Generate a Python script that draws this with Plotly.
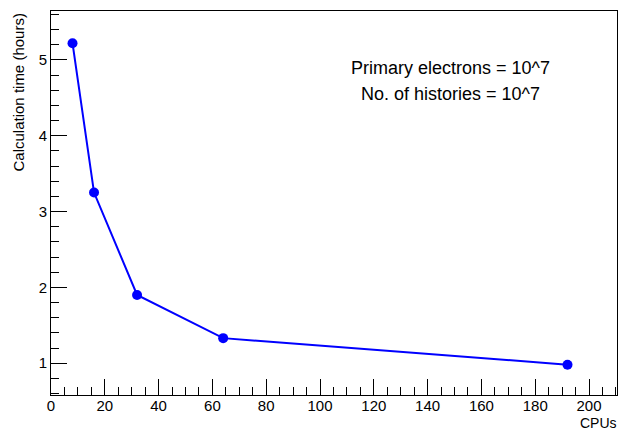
import plotly.graph_objects as go

cpus = [8, 16, 32, 64, 192]
hours = [5.22, 3.25, 1.90, 1.33, 0.98]
x_ticks = [0, 20, 40, 60, 80, 100, 120, 140, 160, 180, 200]
y_ticks = [1, 2, 3, 4, 5]
info_lines = ["Primary electrons = 10^7", "No. of histories = 10^7"]

W, H = 622, 431
L, R, T, B = 51, 5, 11, 36
FONT = "Liberation Sans, Arial, Helvetica, sans-serif"
PW, PH = W - L - R, H - T - B

fig = go.Figure()
fig.add_trace(go.Scatter(
    x=cpus, y=hours, mode="lines+markers",
    line=dict(color="#0000ff", width=2),
    marker=dict(color="#0000ff", size=10),
    showlegend=False,
))

axis_common = dict(
    showgrid=False, zeroline=False, showline=True, mirror=True,
    linecolor="#000000", linewidth=1,
    ticks="inside", ticklen=16, tickwidth=1, tickcolor="#000000",
    tickfont=dict(family=FONT, size=15, color="#000000"),
)
fig.update_xaxes(
    range=[0, 210.4], tickvals=x_ticks, ticktext=[str(v) for v in x_ticks],
    minor=dict(ticks="inside", ticklen=8, dtick=5, tick0=0, tickcolor="#000000"),
    ticklabelstandoff=-3,
    **axis_common,
)
fig.update_yaxes(
    range=[0.58, 5.645], tickvals=y_ticks, ticktext=[str(v) for v in y_ticks],
    minor=dict(ticks="inside", ticklen=8, dtick=0.2, tick0=0, tickcolor="#000000"),
    **axis_common,
)

annotations = [
    dict(text="CPUs", xref="paper", yref="paper", x=(618 - L) / PW,
         y=1 - (423 - T) / PH,
         xanchor="right", yanchor="middle", showarrow=False, borderpad=0,
         font=dict(family=FONT, size=14, color="#000000")),
    dict(text="Calculation time (hours)", xref="paper", yref="paper",
         x=(18.5 - L) / PW, y=1 - (12 - T) / PH, xanchor="center",
         yanchor="top", textangle=-90,
         showarrow=False, font=dict(family=FONT, size=15, color="#000000")),
]
for i, line in enumerate(info_lines):
    annotations.append(dict(
        text=line, xref="paper", yref="paper",
        x=(450.5 - L) / PW, y=1 - (68 + 26 * i - T) / PH,
        xanchor="center", yanchor="middle", showarrow=False,
        font=dict(family=FONT, size=18, color="#000000"),
    ))

fig.update_layout(
    width=W, height=H, margin=dict(l=L, r=R, t=T, b=B),
    paper_bgcolor="#ffffff", plot_bgcolor="#ffffff",
    annotations=annotations,
)
fig.write_html("out.html")
